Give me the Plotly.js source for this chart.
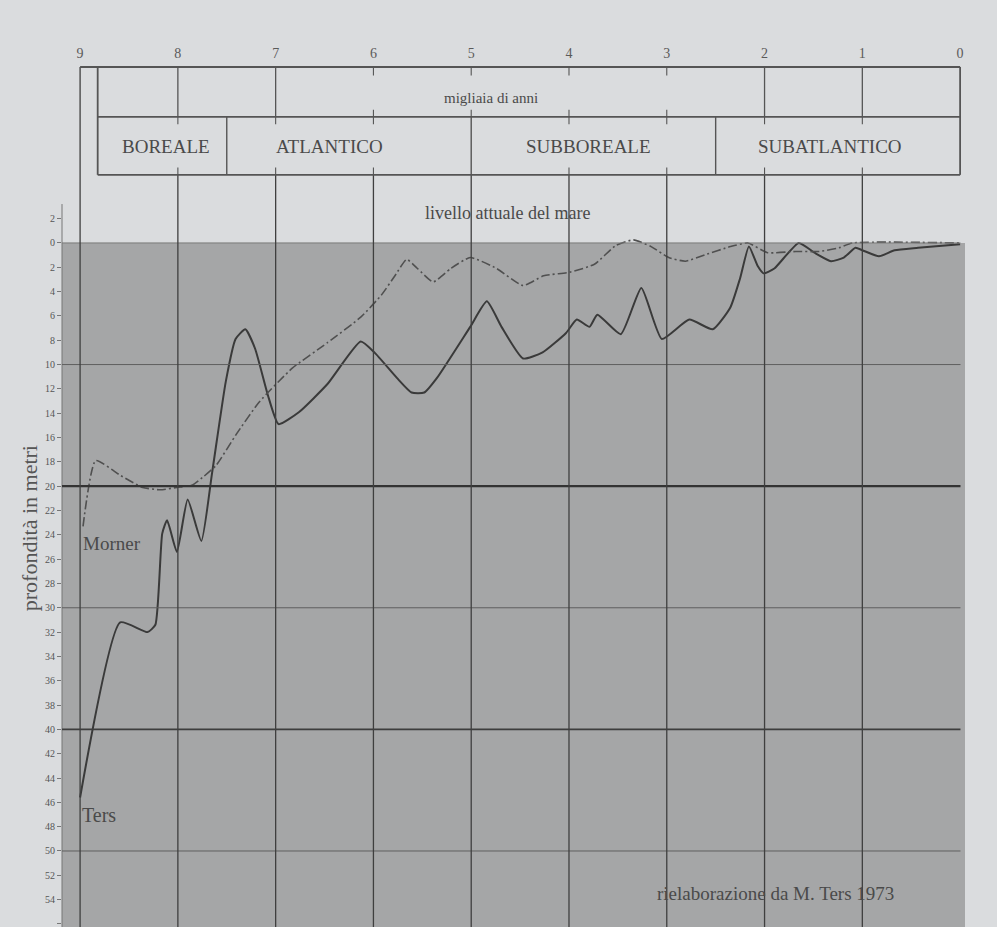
<!DOCTYPE html>
<html>
<head>
<meta charset="utf-8">
<script src="https://cdn.plot.ly/plotly-3.0.1.min.js"></script>
<style>
  html, body { margin: 0; padding: 0; background: #dadcde; }
  #chart { width: 997px; height: 927px; }
</style>
</head>
<body>
<div id="chart"></div>
<script>
// ---- data (thousands of years BP, depth in metres below present sea level) ----
const yearTicks = [9, 8, 7, 6, 5, 4, 3, 2, 1, 0];
const depthTicks = [-2, 0, 2, 4, 6, 8, 10, 12, 14, 16, 18, 20, 22, 24, 26, 28, 30, 32, 34, 36, 38, 40, 42, 44, 46, 48, 50, 52, 54, 56];
const depthTickText = depthTicks.map(v => String(Math.abs(v)));

const tersYears = [9.00, 8.59, 8.31, 8.23, 8.16, 8.11, 8.01, 7.90, 7.76, 7.65, 7.51, 7.41, 7.31, 7.21, 7.08, 6.97, 6.76, 6.47, 6.13, 5.99, 5.76, 5.61, 5.48, 5.35, 5.01, 4.84, 4.69, 4.47, 4.27, 4.03, 3.92, 3.79, 3.71, 3.47, 3.26, 3.05, 2.77, 2.53, 2.35, 2.25, 2.16, 2.07, 2.01, 1.90, 1.65, 1.49, 1.32, 1.19, 1.07, 1.00, 0.83, 0.67, 0.43, 0.00];
const tersDepth = [45.6, 31.2, 32.0, 31.4, 23.9, 22.8, 25.4, 21.1, 24.5, 18.9, 11.4, 7.9, 7.1, 8.7, 12.5, 14.9, 13.9, 11.6, 8.1, 9.0, 11.1, 12.3, 12.3, 11.1, 6.9, 4.8, 6.9, 9.5, 9.0, 7.4, 6.3, 6.9, 5.9, 7.5, 3.7, 7.9, 6.3, 7.1, 5.3, 2.9, 0.3, 1.9, 2.5, 2.1, 0.0, 0.8, 1.5, 1.2, 0.4, 0.6, 1.1, 0.6, 0.4, 0.1];

const mornerYears = [8.97, 8.84, 8.59, 8.36, 8.18, 8.01, 7.85, 7.75, 7.61, 7.40, 7.17, 6.83, 6.47, 6.13, 5.92, 5.78, 5.66, 5.55, 5.39, 5.21, 5.01, 4.74, 4.47, 4.26, 3.99, 3.74, 3.52, 3.34, 3.16, 2.98, 2.81, 2.60, 2.35, 2.17, 1.97, 1.68, 1.44, 1.24, 1.10, 0.00];
const mornerDepth = [23.3, 17.9, 19.1, 20.1, 20.3, 20.1, 19.9, 19.3, 18.3, 15.7, 13.1, 10.3, 8.2, 6.1, 4.3, 2.7, 1.35, 2.1, 3.2, 2.1, 1.2, 2.1, 3.5, 2.7, 2.4, 1.75, 0.2, -0.25, 0.3, 1.2, 1.5, 0.95, 0.3, 0.0, 0.8, 0.7, 0.7, 0.4, 0.0, 0.0];

const periods = ["BOREALE", "ATLANTICO", "SUBBOREALE", "SUBATLANTICO"];
const periodCentres = [8.12, 6.45, 3.8, 1.33];
const periodBounds = [7.5, 5.0, 2.5];
const depthGrid = [0, 10, 20, 30, 40, 50];

// ---- styling ----
const SERIF = "Liberation Serif, Times New Roman, serif";
const INK = "#4a4a4a";
const Y_TOP = -14.88, Y_BOT = 56.25;
const HDR_TOP = -14.47, HDR_MID = -10.36, HDR_BOT = -5.6, HDR_LEFT = 8.82;

const shapes = [];
// shaded sea area
shapes.push({type: "rect", xref: "paper", yref: "y", x0: 0, x1: 1, y0: 0, y1: 60,
  fillcolor: "#a5a6a7", line: {width: 0}, layer: "below"});
// left axis line
shapes.push({type: "line", xref: "paper", yref: "y", x0: 0, x1: 0, y0: -3.2, y1: 60,
  line: {color: "#777", width: 1}});
// horizontal depth grid
depthGrid.forEach(d => {
  let col = "#5f5f5f", w = 1;
  if (d === 20) { col = "#333"; w = 2.2; }
  if (d === 40) { col = "#3d3d3d"; w = 1.6; }
  if (d === 0) { col = "#7a7a7a"; w = 1; }
  shapes.push({type: "line", xref: "paper", yref: "y", x0: 0, x1: 0.995, y0: d, y1: d,
    line: {color: col, width: w}});
});
// vertical year grid
yearTicks.forEach(t => {
  if (t === 0) return;
  const top = (t === 9) ? HDR_TOP : HDR_BOT;
  shapes.push({type: "line", xref: "x", yref: "y", x0: t, x1: t, y0: top, y1: 60,
    line: {color: "#3f3f3f", width: 1.3}});
});
// header table
const hl = (x0, x1, y0, y1, w) => shapes.push({type: "line", xref: "x", yref: "y",
  x0: x0, x1: x1, y0: y0, y1: y1, line: {color: "#555", width: w || 1.8}});
hl(9, 0, HDR_TOP, HDR_TOP);
hl(HDR_LEFT, 0, HDR_MID, HDR_MID);
hl(HDR_LEFT, 0, HDR_BOT, HDR_BOT);
hl(HDR_LEFT, HDR_LEFT, HDR_TOP, HDR_BOT);
hl(0, 0, HDR_TOP, HDR_BOT);
[8, 7, 2, 1].forEach(t => hl(t, t, HDR_TOP, HDR_MID, 1.3));
[6, 5, 4, 3].forEach(t => { hl(t, t, HDR_TOP, HDR_TOP + 0.7, 1.1); hl(t, t, HDR_MID - 0.6, HDR_MID, 1.1); });
periodBounds.forEach(b => hl(b, b, HDR_MID, HDR_BOT, 1.4));
[8, 7, 6, 4, 3, 2, 1].forEach(t => { hl(t, t, HDR_MID, HDR_MID + 0.6, 1.1); hl(t, t, HDR_BOT - 0.6, HDR_BOT, 1.1); });

const annotations = [];
annotations.push({x: 4.8, y: -11.9, xref: "x", yref: "y", text: "migliaia di anni", showarrow: false,
  font: {family: SERIF, size: 15, color: INK}});
periods.forEach((p, i) => annotations.push({x: periodCentres[i], y: -7.9, xref: "x", yref: "y", text: p,
  showarrow: false, font: {family: SERIF, size: 19, color: INK}}));
annotations.push({x: 4.63, y: -2.5, xref: "x", yref: "y", text: "livello attuale del mare", showarrow: false,
  font: {family: SERIF, size: 18, color: INK}});
annotations.push({x: 8.99, y: 24.7, xref: "x", yref: "y", text: "Morner", showarrow: false, xanchor: "left",
  font: {family: SERIF, size: 19, color: INK}});
annotations.push({x: 9.0, y: 47.0, xref: "x", yref: "y", text: "Ters", showarrow: false, xanchor: "left",
  font: {family: SERIF, size: 20, color: INK}});
annotations.push({x: 3.12, y: 53.5, xref: "x", yref: "y", text: "rielaborazione da M. Ters 1973", showarrow: false,
  xanchor: "left", font: {family: SERIF, size: 19, color: INK}});
annotations.push({x: 0, y: 23.5, xref: "paper", yref: "y", xshift: -47, text: "profondità in metri", showarrow: false,
  textangle: -90, font: {family: SERIF, size: 22, color: "#555"}});

const traces = [
  {x: tersYears, y: tersDepth, type: "scatter", mode: "lines", name: "Ters",
   line: {color: "#3a3a3a", width: 2, shape: "spline", smoothing: 0.5}, hoverinfo: "x+y"},
  {x: mornerYears, y: mornerDepth, type: "scatter", mode: "lines", name: "Morner",
   line: {color: "#505050", width: 1.6, dash: "9px,3px,2px,3px", shape: "spline", smoothing: 0.5}, hoverinfo: "x+y"}
];

const layout = {
  width: 997, height: 927,
  margin: {l: 62, r: 32, t: 62, b: 0},
  paper_bgcolor: "#dadcde",
  plot_bgcolor: "#dadcde",
  showlegend: false,
  xaxis: {range: [9.185, -0.05], side: "top", tickvals: yearTicks, ticktext: yearTicks.map(String),
    showgrid: false, zeroline: false, showline: false, ticks: "",
    tickfont: {family: SERIF, size: 14, color: "#5a5a5a"}},
  yaxis: {range: [Y_BOT, Y_TOP], tickvals: depthTicks, ticktext: depthTickText,
    showgrid: false, zeroline: false, showline: false, ticks: "outside", ticklen: 4, tickcolor: "#777",
    tickfont: {family: SERIF, size: 10, color: "#555"}},
  shapes: shapes,
  annotations: annotations
};

Plotly.newPlot("chart", traces, layout, {displayModeBar: false, staticPlot: true});
</script>
</body>
</html>
